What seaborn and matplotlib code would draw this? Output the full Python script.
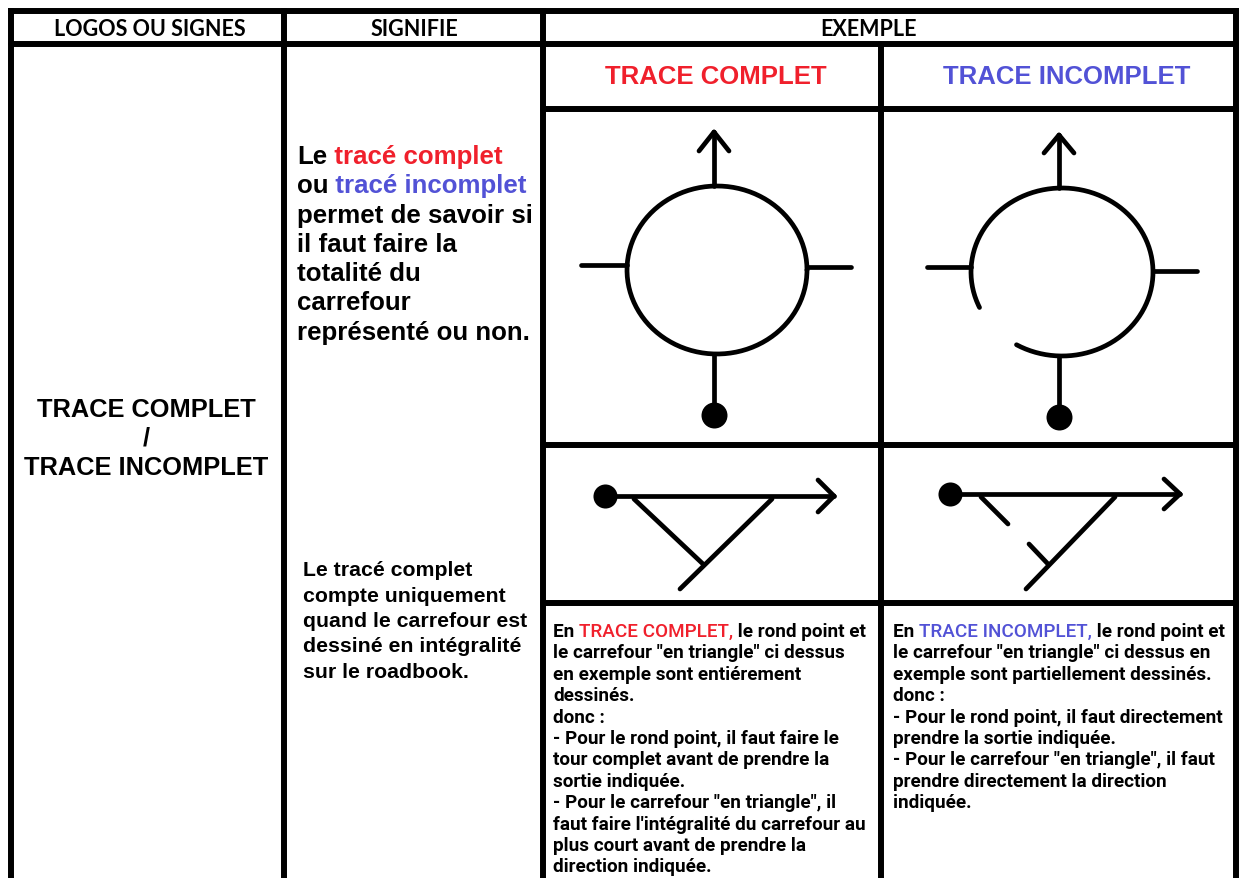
import numpy as np
import matplotlib
matplotlib.use("Agg")
import matplotlib.pyplot as plt
import seaborn as sns

# --- table grid (pixel coords, y goes down) ---
col_x = [11, 284, 543, 1236]          # main column borders
sub_x = 881                           # split inside EXEMPLE
top_y = 12
head_y = 44.5
sub_rows = [110, 446, 604]            # lines inside EXEMPLE column

RED = "#f0202c"
BLUE = "#5252d6"

# --- text content ---
headers = ["LOGOS OU SIGNES", "SIGNIFIE", "EXEMPLE"]
header_x = [150, 414, 869]
sub_titles = ["TRACE COMPLET", "TRACE INCOMPLET"]
sub_title_x = [716, 1067]
sub_title_colors = [RED, BLUE]
left_lines = ["TRACE COMPLET", "/", "TRACE INCOMPLET"]
left_y = [410, 439, 468]

signifie_top = [
    [("Le", "black"), (" tracé complet", RED)],
    [("ou", "black"), (" tracé incomplet", BLUE)],
    [("permet de savoir si", "black")],
    [("il faut faire la", "black")],
    [("totalité du", "black")],
    [("carrefour", "black")],
    [("représenté ou non.", "black")],
]
signifie_bottom = [
    "Le tracé complet",
    "compte uniquement",
    "quand le carrefour est",
    "dessiné en intégralité",
    "sur le roadbook.",
]
expl_complet = [
    [("En ", "black"), ("TRACE COMPLET,", RED), (" le rond point et", "black")],
    [('le carrefour "en triangle" ci dessus', "black")],
    [("en exemple sont entiérement", "black")],
    [("dessinés.", "black")],
    [("donc :", "black")],
    [("- Pour le rond point, il faut faire le", "black")],
    [("tour complet avant de prendre la", "black")],
    [("sortie indiquée.", "black")],
    [('- Pour le carrefour "en triangle", il', "black")],
    [("faut faire l'intégralité du carrefour au", "black")],
    [("plus court avant de prendre la", "black")],
    [("direction indiquée.", "black")],
]
expl_incomplet = [
    [("En ", "black"), ("TRACE INCOMPLET,", BLUE), (" le rond point et", "black")],
    [('le carrefour "en triangle" ci dessus en', "black")],
    [("exemple sont partiellement dessinés.", "black")],
    [("donc :", "black")],
    [("- Pour le rond point, il faut directement", "black")],
    [("prendre la sortie indiquée.", "black")],
    [('- Pour le carrefour "en triangle", il faut', "black")],
    [("prendre directement la direction", "black")],
    [("indiquée.", "black")],
]

# --- roundabout shapes: centre, radii, stubs, arrow, dot ---
rb_center = [(717, 271), (1062, 273)]
rb_radius = [(90, 84), (91, 84)]
rb_arc = [(0, 360), (240, 565)]       # drawn angle range (degrees, y up)
rb_left_stub = [(581, 627, 266), (927, 971, 268)]
rb_right_stub = [(807, 851, 268), (1153, 1197, 272)]
rb_stem_x = [714, 1059]
rb_arrow_tip = [133, 136]
rb_head_dx = [15, 15]
rb_head_dy = [19, 18]
rb_dot_y = [416, 418]

# --- triangle junctions ---
tri_dot = [(605, 497), (950, 495)]
tri_tip_x = [834, 1180]
tri_head = [(818, 16), (1164, 15)]
tri_legs = [
    [[(634, 500), (703, 565)], [(772, 500), (680, 590)]],
    [[(981, 498), (1008, 525)], [(1029, 545), (1048, 565)],
     [(1115, 498), (1026, 590)]],
]

sns.set_theme(style="white")
plt.rcParams["font.family"] = ["Liberation Sans", "DejaVu Sans"]
plt.rcParams["text.color"] = "black"

fig = plt.figure(figsize=(12.39, 8.79), dpi=100)
ax = fig.add_axes([0, 0, 1, 1])
ax.set_xlim(0, 1239)
ax.set_ylim(879, 0)
ax.axis("off")

GRID_LW = 4.3
ROAD_LW = 3.4


def seg(x0, y0, x1, y1, lw=ROAD_LW):
    sns.lineplot(x=[x0, x1], y=[y0, y1], color="black", lw=lw,
                 sort=False, estimator=None, ax=ax, solid_capstyle="round")


# grid
ax.plot([col_x[0], col_x[-1]], [top_y, top_y], color="black", lw=GRID_LW,
        solid_capstyle="projecting")
ax.plot([col_x[0], col_x[-1]], [head_y, head_y], color="black", lw=GRID_LW)
for x in col_x:
    ax.plot([x, x], [top_y, 879], color="black", lw=GRID_LW,
            solid_capstyle="projecting")
ax.plot([sub_x, sub_x], [head_y, 879], color="black", lw=GRID_LW)
for y in sub_rows:
    ax.plot([col_x[2], col_x[3]], [y, y], color="black", lw=GRID_LW)

# headers
for t, x in zip(headers, header_x):
    ax.text(x, 29, t, ha="center", va="center", fontsize=15.5,
            fontweight="bold", color="black", family=["Lato", "DejaVu Sans"])
for t, x, c in zip(sub_titles, sub_title_x, sub_title_colors):
    ax.text(x, 77, t, ha="center", va="center", fontsize=18.5,
            fontweight="bold", color=c)
for t, y in zip(left_lines, left_y):
    ax.text(146, y, t, ha="center", va="center", fontsize=18.3,
            fontweight="bold", color="black")


def runs(x, y, parts, size, family=None, weight="bold", color_weight=None):
    fam = family or ["Liberation Sans", "DejaVu Sans"]
    prev = None
    for txt, col in parts:
        w = weight if (col == "black" or color_weight is None) else color_weight
        if prev is None:
            prev = ax.text(x, y, txt, ha="left", va="center", fontsize=size,
                           fontweight=w, color=col, family=fam)
        else:
            prev = ax.annotate(txt, xy=(1, 0), xycoords=prev, ha="left",
                               va="bottom", fontsize=size, fontweight=w,
                               color=col, family=fam)


for i, parts in enumerate(signifie_top):
    runs(297, 157 + i * 29.3, parts, 18.6)
for i, t in enumerate(signifie_bottom):
    runs(303, 571 + i * 25.3, [(t, "black")], 15.3)

narrow = ["Roboto", "DejaVu Sans"]
for i, parts in enumerate(expl_complet):
    runs(553, 632 + i * 21.4, parts, 13.6, family=narrow,
         color_weight="medium")
for i, parts in enumerate(expl_incomplet):
    runs(893, 632 + i * 21.4, parts, 13.6, family=narrow,
         color_weight="medium")

# roundabouts
for k in range(2):
    cx, cy = rb_center[k]
    rx, ry = rb_radius[k]
    th = np.radians(np.linspace(rb_arc[k][0], rb_arc[k][1], 200))
    sns.lineplot(x=cx + rx * np.cos(th), y=cy - ry * np.sin(th), color="black",
                 lw=ROAD_LW, sort=False, estimator=None, ax=ax)
    x0, x1, y = rb_left_stub[k]
    seg(x0, y, x1, y)
    x0, x1, y = rb_right_stub[k]
    seg(x0, y, x1, y)
    sx = rb_stem_x[k]
    seg(sx, cy - ry, sx, rb_arrow_tip[k])
    seg(sx, rb_arrow_tip[k], sx - rb_head_dx[k], rb_arrow_tip[k] + rb_head_dy[k])
    seg(sx, rb_arrow_tip[k], sx + rb_head_dx[k], rb_arrow_tip[k] + rb_head_dy[k])
    seg(sx, cy + ry, sx, rb_dot_y[k])
    ax.scatter([sx], [rb_dot_y[k]], s=350, color="black", linewidths=0,
               zorder=3)

# triangle junctions
for k in range(2):
    dx, dy = tri_dot[k]
    seg(dx, dy, tri_tip_x[k], dy)
    hx, hh = tri_head[k]
    seg(tri_tip_x[k], dy, hx, dy - hh)
    seg(tri_tip_x[k], dy, hx, dy + hh)
    for (a, b) in tri_legs[k]:
        seg(a[0], a[1], b[0], b[1])
    ax.scatter([dx], [dy], s=300, color="black", linewidths=0, zorder=3)

fig.savefig("out.png", dpi=100, facecolor="white")
